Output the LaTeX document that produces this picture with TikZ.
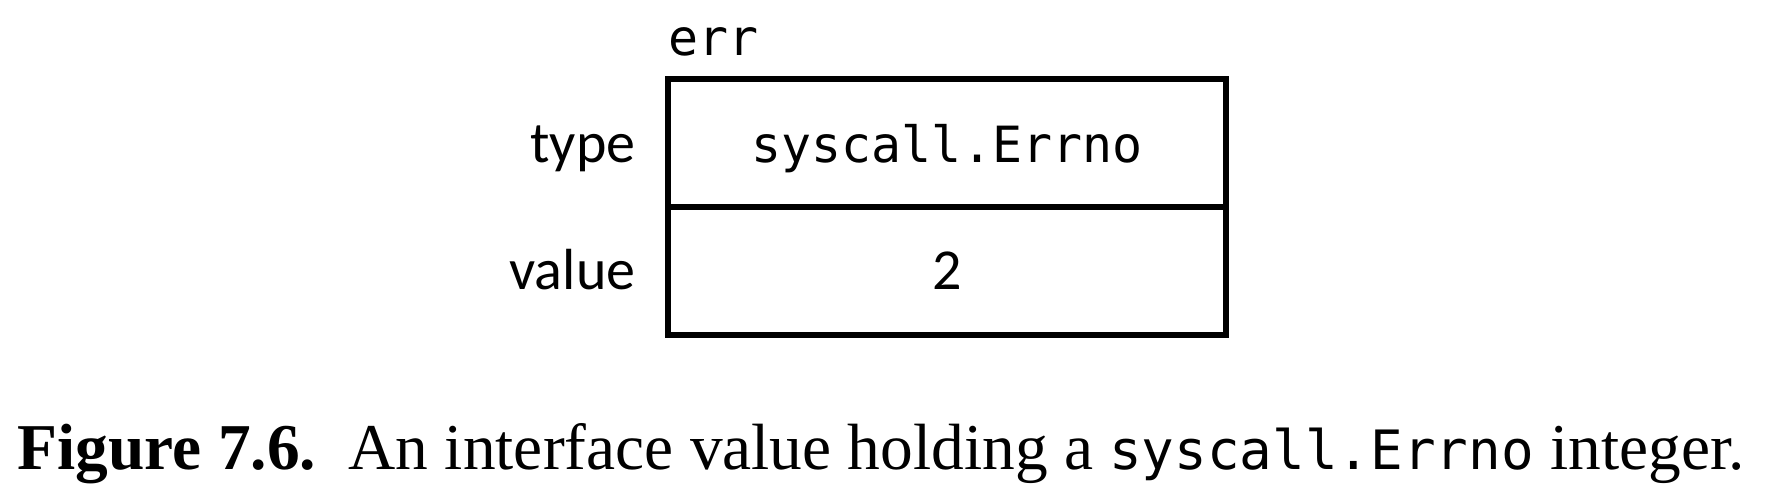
\documentclass[tikz,border=0pt]{standalone}
\usepackage{fontspec}
\setmainfont{Liberation Serif}
\setmonofont{DejaVu Sans Mono}
\newfontfamily\labelfont{Carlito}
\newfontfamily\captionmono[Scale=0.83]{DejaVu Sans Mono}
\usetikzlibrary{positioning}

\tikzset{
  cell/.style = {draw, line width=1.7pt, minimum width=5.58cm, minimum height=1.28cm,
                 inner sep=0pt, outer sep=0pt},
  fieldname/.style = {inner sep=0pt, font=\labelfont\fontsize{16.5}{18}\selectfont},
  monotext/.style = {inner sep=0pt, font=\ttfamily\fontsize{14.2}{16}\selectfont}
}

\begin{document}
\begin{tikzpicture}
  \useasboundingbox (0,0) rectangle (17.65,4.91);
  % interface value cells
  \node[cell] (typecell) at (9.47,3.48) {};
  \node[cell, below=0pt of typecell] (valuecell) {};
  \node[monotext, anchor=base] (typetext) at ([yshift=-0.2cm]typecell.center) {syscall.Errno};
  \node[fieldname, anchor=base] (valuetext) at ([yshift=-0.19cm]valuecell.center) {2};
  % field names
  \node[fieldname, anchor=base east] (typelabel) at ([xshift=-0.32cm,yshift=-0.2cm]typecell.west) {type};
  \node[fieldname, anchor=base east] (valuelabel) at ([xshift=-0.32cm,yshift=-0.19cm]valuecell.west) {value};
  \node[monotext, anchor=base west] (errname) at ([yshift=0.23cm]typecell.north west) {err};
  % caption
  \node[anchor=base west, inner sep=0pt, font=\fontsize{18.6}{20}\selectfont] (caption) at (0.17,0.21)
    {\textbf{Figure 7.6.}\enspace An interface value holding a {\captionmono syscall.Errno} integer.};
\end{tikzpicture}
\end{document}
